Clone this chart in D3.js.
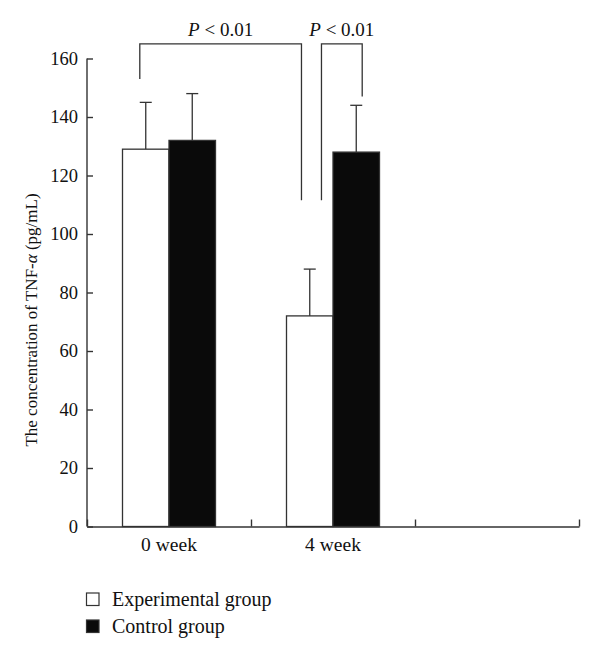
<!DOCTYPE html>
<html><head><meta charset="utf-8">
<script src="https://cdn.jsdelivr.net/npm/d3@7"></script>
<style>body{margin:0;background:#fff}svg{display:block}text{font-family:"Liberation Serif","Times New Roman",serif;fill:#111}</style>
</head><body><svg id="c" width="600" height="655"></svg>
<script>
const categories = ["0 week", "4 week", ""];
const seriesNames = ["Experimental group", "Control group"];
const experimental = [129, 72];
const experimentalErr = [16, 16];
const control = [132, 128];
const controlErr = [16, 16];
const yTicks = [0, 20, 40, 60, 80, 100, 120, 140, 160];
// significance brackets: legs given as [category idx, offset], heights in data units
const brackets = [
  {label: "P < 0.01", top: 165, leftLeg: 153, rightLeg: 111.5, left: [0, -0.314], right: [1, -0.339]},
  {label: "P < 0.01", top: 165, leftLeg: 111.5, rightLeg: 147, left: [1, -0.124], right: [1, 0.314]}
];

const svg = d3.select("#c");
const m = {l: 87, r: 579, t: 58.5, b: 526.5};
const x = d3.scaleBand().domain(categories).range([m.l, m.r]).padding(0);
const y = d3.scaleLinear().domain([0, 160]).range([m.b, m.t]);
const barW = 46.5;
const ink = "#333";

const data = [];
categories.slice(0, 2).forEach((c, i) => {
  data.push({c, v: experimental[i], e: experimentalErr[i], s: 0});
  data.push({c, v: control[i], e: controlErr[i], s: 1});
});
const cx = d => x(d.c) + x.bandwidth() / 2 + (d.s === 0 ? -barW / 2 : barW / 2);

// error bars
const g = svg.append("g");
data.forEach(d => {
  const xc = cx(d);
  g.append("line").attr("x1", xc).attr("x2", xc).attr("y1", y(d.v)).attr("y2", y(d.v + d.e)).attr("stroke", ink).attr("stroke-width", 1.3);
  g.append("line").attr("x1", xc - 6).attr("x2", xc + 6).attr("y1", y(d.v + d.e)).attr("y2", y(d.v + d.e)).attr("stroke", ink).attr("stroke-width", 1.3);
});
g.selectAll("rect").data(data).join("rect")
  .attr("x", d => cx(d) - barW / 2)
  .attr("y", d => y(d.v))
  .attr("width", barW)
  .attr("height", d => y(0) - y(d.v))
  .attr("fill", d => d.s === 0 ? "#fff" : "#0a0a0a")
  .attr("stroke", ink).attr("stroke-width", 1.3);

// axes
const ya = d3.axisLeft(y).tickValues(yTicks).tickSize(-6).tickPadding(9).tickSizeOuter(0);
const yg = svg.append("g").attr("transform", `translate(${m.l},0)`).call(ya);
yg.selectAll("path,line").attr("stroke", ink).attr("stroke-width", 1.4);
yg.selectAll("text").attr("font-size", 18.5).attr("font-family", "Liberation Serif").attr("fill", "#111");
yg.select(".domain").attr("d", `M0,${m.t}V${m.b}`);

const xb = d3.scaleLinear().domain([0, 3]).range([m.l, m.r]);
const xa = d3.axisBottom(xb).tickValues([0, 1, 2, 3]).tickSize(-7).tickFormat("").tickSizeOuter(0);
const xg = svg.append("g").attr("transform", `translate(0,${m.b})`).call(xa);
xg.selectAll("path,line").attr("stroke", ink).attr("stroke-width", 1.4);
svg.append("g").selectAll("text").data(categories.slice(0, 2)).join("text")
  .attr("x", d => x(d) + x.bandwidth() / 2).attr("y", 551)
  .attr("text-anchor", "middle").attr("font-size", 19.5).text(d => d);

// y label
svg.append("text").attr("transform", "translate(37,320) rotate(-90)")
  .attr("text-anchor", "middle").attr("font-size", 17)
  .html('The concentration of TNF-<tspan font-style="italic">α</tspan> (pg/mL)');

// brackets
const bx = ([ci, off]) => x(categories[ci]) + x.bandwidth() / 2 + off * barW * 2;
brackets.forEach(b => {
  const xl = bx(b.left), xr = bx(b.right);
  svg.append("path").attr("fill", "none").attr("stroke", ink).attr("stroke-width", 1.3)
    .attr("d", `M${xl},${y(b.leftLeg)}V${y(b.top)}H${xr}V${y(b.rightLeg)}`);
  svg.append("text").attr("x", (xl + xr) / 2).attr("y", y(b.top) - 7.5)
    .attr("text-anchor", "middle").attr("font-size", 19)
    .html('<tspan font-style="italic">P</tspan> &lt; 0.01');
});

// legend
const lg = svg.append("g");
seriesNames.forEach((s, i) => {
  lg.append("rect").attr("x", 86.5).attr("y", 593 + i * 27).attr("width", 12.5).attr("height", 12.5)
    .attr("fill", i === 0 ? "#fff" : "#0a0a0a").attr("stroke", ink).attr("stroke-width", 1.2);
  lg.append("text").attr("x", 112).attr("y", 605.5 + i * 27).attr("font-size", 20).text(s);
});
</script></body></html>
